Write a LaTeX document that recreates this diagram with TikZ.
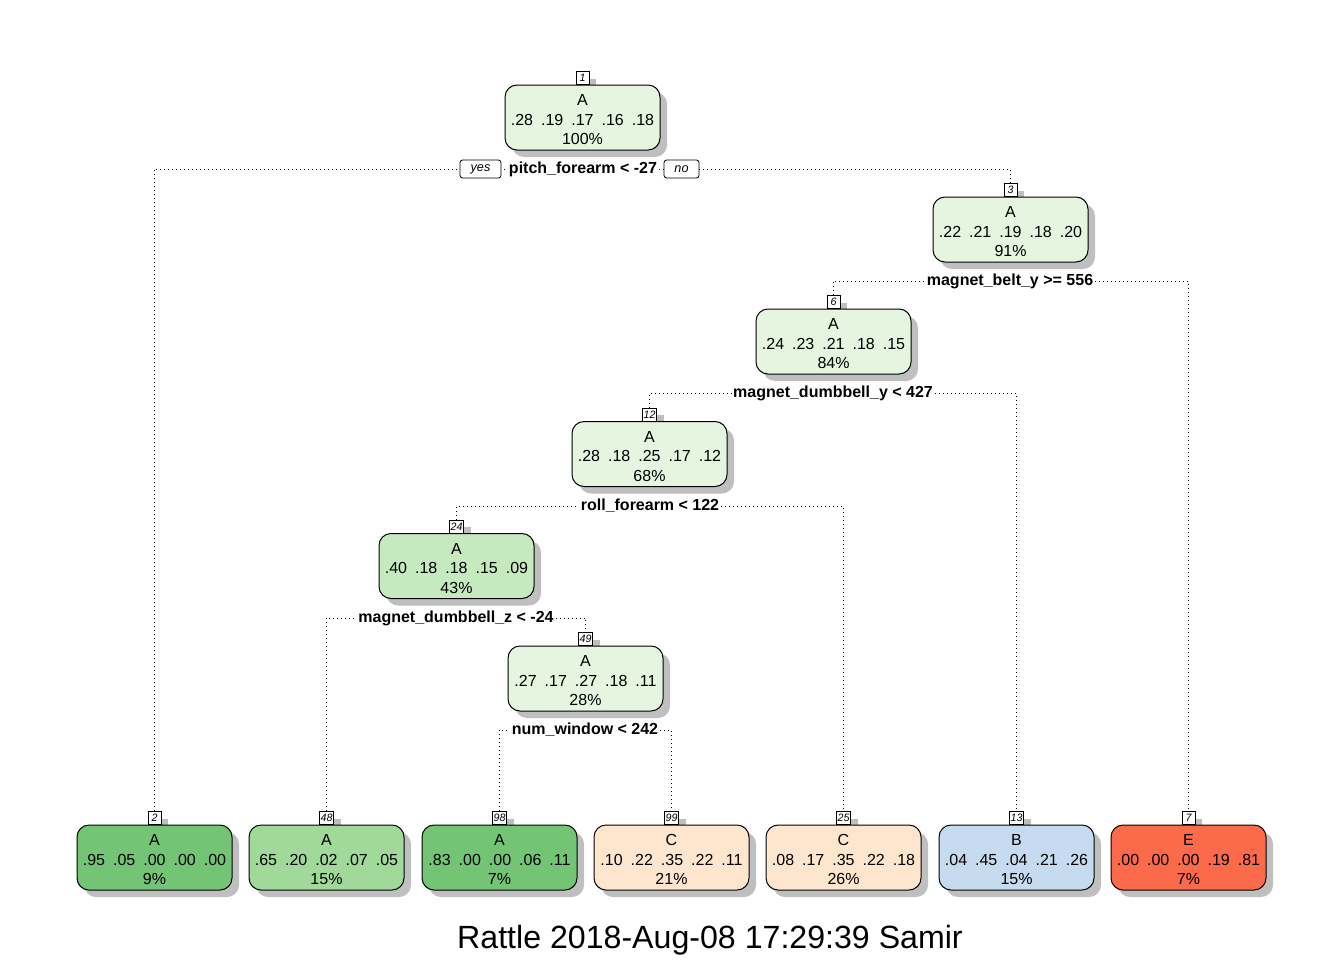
\documentclass[tikz,border=0pt]{standalone}
\usepackage{fontspec}
\setmainfont{Liberation Sans}
\usetikzlibrary{shadows}
\definecolor{grnpale}{HTML}{E5F5E0}
\definecolor{grnlight}{HTML}{C7E9C0}
\definecolor{grnmid}{HTML}{A1D99B}
\definecolor{grndeep}{HTML}{74C476}
\definecolor{orgpale}{HTML}{FEE6CE}
\definecolor{bluepale}{HTML}{C6DBEF}
\definecolor{redmid}{HTML}{FB6A4A}
\newcommand{\pgap}{\hspace{0.5em}}
\tikzset{
  shade box/.style={drop shadow={shadow xshift=5.25pt,shadow yshift=-5.25pt,fill=black!25,opacity=1}},
  treebox/.style={draw,line width=0.75pt,rounded corners=9pt,minimum width=116.25pt,minimum height=48.75pt,
    inner sep=0pt,align=center,font=\fontsize{12}{14.6}\selectfont,shade box},
  numbox/.style={draw,fill=white,line width=0.6pt,inner sep=1pt,minimum width=9.75pt,minimum height=9.75pt,
    font=\fontsize{8}{9}\selectfont\itshape,shade box},
  splitlbl/.style={fill=white,inner sep=1.5pt,font=\fontsize{12}{14}\selectfont\bfseries},
  yesno/.style={draw,fill=white,line width=0.6pt,rounded corners=2pt,minimum height=13.5pt,
    inner sep=1pt,font=\fontsize{9.5}{11}\selectfont\itshape},
  edge/.style={line width=0.75pt,dash pattern=on 0.75pt off 2.25pt}
}
\begin{document}
\begin{tikzpicture}[x=0.75pt,y=-0.75pt]
  \useasboundingbox (0,0) rectangle (1344,960);
  % boxes, number tag first so the box covers its shadow
  \foreach \id/\x/\y/\col/\cls/\probs/\pct in {
      1/582.5/117.5/grnpale/A/.28\pgap.19\pgap.17\pgap.16\pgap.18/100,
      3/1010.5/229.5/grnpale/A/.22\pgap.21\pgap.19\pgap.18\pgap.20/91,
      6/833.5/341.5/grnpale/A/.24\pgap.23\pgap.21\pgap.18\pgap.15/84,
      12/649.5/454/grnpale/A/.28\pgap.18\pgap.25\pgap.17\pgap.12/68,
      24/456.5/566/grnlight/A/.40\pgap.18\pgap.18\pgap.15\pgap.09/43,
      49/585.5/678.5/grnpale/A/.27\pgap.17\pgap.27\pgap.18\pgap.11/28,
      2/154.5/857.5/grndeep/A/.95\pgap.05\pgap.00\pgap.00\pgap.00/9,
      48/326.5/857.5/grnmid/A/.65\pgap.20\pgap.02\pgap.07\pgap.05/15,
      98/499.5/857.5/grndeep/A/.83\pgap.00\pgap.00\pgap.06\pgap.11/7,
      99/671.5/857.5/orgpale/C/.10\pgap.22\pgap.35\pgap.22\pgap.11/21,
      25/843.5/857.5/orgpale/C/.08\pgap.17\pgap.35\pgap.22\pgap.18/26,
      13/1016.5/857.5/bluepale/B/.04\pgap.45\pgap.04\pgap.21\pgap.26/15,
      7/1188.5/857.5/redmid/E/.00\pgap.00\pgap.00\pgap.19\pgap.81/7} {
    \node[numbox,anchor=south] (t\id) at (\x,{\y-32.5}) {\id};
    \node[treebox,fill=\col] (n\id) at (\x,\y) {\rule{0pt}{11.6pt}\cls\\\probs\\\pct\%};
  }

  % split rules
  \node[splitlbl] (s1) at (583,169) {pitch\_forearm < -27};
  \node[splitlbl] (s3) at (1010,281) {magnet\_belt\_y >= 556};
  \node[splitlbl] (s6) at (833,393) {magnet\_dumbbell\_y < 427};
  \node[splitlbl] (s12) at (650,506) {roll\_forearm < 122};
  \node[splitlbl] (s24) at (456,618) {magnet\_dumbbell\_z < -24};
  \node[splitlbl] (s49) at (585,730) {num\_window < 242};

  \foreach \s/\l/\r in {1/2/3,3/6/7,6/12/13,12/24/25,24/48/49,49/98/99} {
    \draw[edge] (t\l.north) |- (s\s.west);
    \draw[edge] (s\s.east) -| (t\r.north);
  }

  \node[yesno,minimum width=30.75pt] (yes) at (480.5,169) {yes};
  \node[yesno,minimum width=26.25pt] (no) at (681.5,169) {no};

  \node[font=\fontsize{24.1}{29}\selectfont] (title) at (710,940) {Rattle 2018-Aug-08 17:29:39 Samir};
\end{tikzpicture}
\end{document}
